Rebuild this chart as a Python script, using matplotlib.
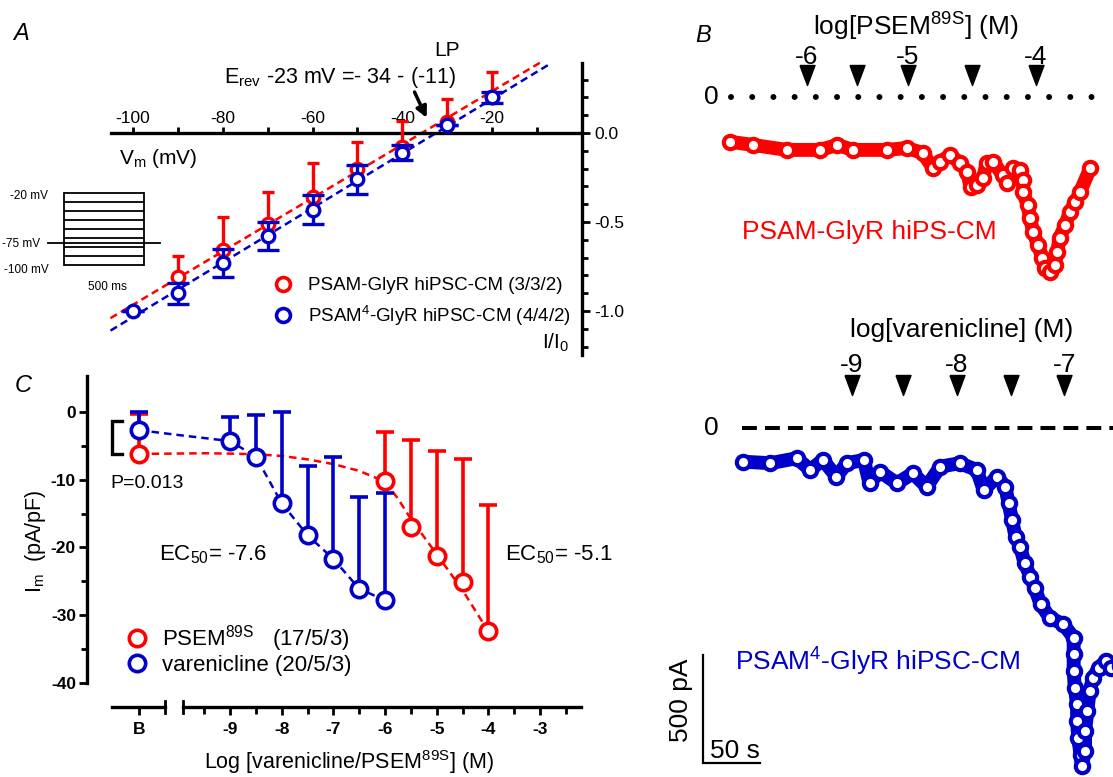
import matplotlib
matplotlib.use('Agg')
import matplotlib.pyplot as plt
import matplotlib.transforms as mtransforms
from matplotlib.lines import Line2D
import numpy as np

plt.rcParams['font.family'] = ['Liberation Sans', 'DejaVu Sans']
plt.rcParams['mathtext.fontset'] = 'custom'
plt.rcParams['mathtext.rm'] = 'Liberation Sans'
plt.rcParams['mathtext.it'] = 'Liberation Sans:italic'
plt.rcParams['mathtext.bf'] = 'Liberation Sans:bold'

W, H = 1113, 777
RED = '#FF0000'
BLUE = '#0000C8'

# ---------------- Panel A : I-V relation ----------------
a_red_v = [-90, -80, -70, -60, -50, -40, -30, -20]
a_red_i = [-0.81, -0.66, -0.51, -0.36, -0.20, -0.08, 0.06, 0.20]
a_red_err = [0.12, 0.19, 0.18, 0.19, 0.15, 0.15, 0.13, 0.14]
a_blue_v = [-100, -90, -80, -70, -60, -50, -40, -30, -20]
a_blue_i = [-1.00, -0.90, -0.73, -0.58, -0.43, -0.26, -0.11, 0.045, 0.20]
a_blue_err = [0.0, 0.06, 0.08, 0.08, 0.08, 0.08, 0.04, 0.0, 0.03]
a_red_fit_v = [-105, -9]
a_red_fit_i = [-1.04, 0.40]
a_blue_fit_v = [-105, -7]
a_blue_fit_i = [-1.11, 0.39]
a_xticks = [-100, -80, -60, -40, -20]
a_xminor = [-90, -70, -50, -30, -10]
a_yticks = [0.0, -0.5, -1.0]
a_yticklabels = ['0.0', '-0.5', '-1.0']
a_yminor = [0.3, 0.2, 0.1, -0.1, -0.2, -0.3, -0.4, -0.6, -0.7, -0.8, -0.9, -1.1, -1.2]
a_labels = ['PSAM-GlyR hiPSC-CM (3/3/2)', r'PSAM$^{4}$-GlyR hiPSC-CM (4/4/2)']

# voltage protocol inset
prot_steps_mv = [-20, -30, -40, -50, -60, -70, -80, -90, -100]
prot_hold_mv = -75
prot_step_ms = 500
prot_pad_ms = 100

# ---------------- Panel C : concentration-response ----------------
c_red_log = [-6, -5.5, -5, -4.5, -4]
c_red_mean = [-10.25, -17.0, -21.2, -25.1, -32.4]
c_red_err = [7.25, 12.9, 15.4, 18.2, 18.7]
c_red_b_mean, c_red_b_err = -6.2, 5.9
c_blue_log = [-9, -8.5, -8, -7.5, -7, -6.5, -6]
c_blue_mean = [-4.3, -6.6, -13.5, -18.2, -21.7, -26.1, -27.8]
c_blue_err = [3.5, 6.1, 13.5, 10.2, 15.1, 13.6, 15.9]
c_blue_b_mean, c_blue_b_err = -2.7, 2.7
c_red_curve_log = [-9.5, -9, -8.5, -8, -7.5, -7, -6.5, -6, -5.75, -5.5, -5, -4.5, -4]
c_red_curve_val = [-6.1, -6.15, -6.25, -6.5, -7.0, -7.7, -8.7, -10.3, -12.8, -15.8, -21.0, -26.3, -32.4]
c_blue_curve_log = [-9.9, -9, -8.5, -8, -7.5, -7, -6.5, -6]
c_blue_curve_val = [-3.5, -4.3, -6.6, -13.5, -18.2, -21.7, -26.1, -27.8]
c_yticks = [0, -10, -20, -30, -40]
c_yminor = [-5, -15, -25, -35]
c_xticks = [-9, -8, -7, -6, -5, -4, -3]
c_xminor = [-9.5, -8.5, -7.5, -6.5, -5.5, -4.5, -3.5, -2.5]
c_labels = [r'PSEM$^{\mathrm{89S}}$   (17/5/3)', 'varenicline (20/5/3)']

# ---------------- Panel B : example traces ----------------
b_red_t = [0, 20, 50, 79, 94, 108, 138, 155, 169, 178, 184, 193, 202, 208, 211, 217,
           222, 225, 231, 239, 243, 248, 254, 257, 257, 261, 263, 266, 270, 274, 276,
           281, 285, 287, 289, 294, 298, 303, 307, 316]
b_red_i = [-207, -222, -245, -245, -222, -245, -245, -236, -259, -329, -301, -269, -306,
           -347, -417, -407, -375, -306, -301, -361, -398, -329, -338, -384, -440, -500,
           -560, -625, -685, -745, -792, -810, -778, -718, -653, -593, -532, -486, -440, -329]
b_red_arrow_t = [67.5, 111.4, 156.1, 212.2, 268.4]
b_red_arrow_lab = ['-6', '', '-5', '', '-4']
b_red_zero_t = [0.9, 317.5]

b_blue_t = [0, 24, 47, 59, 70, 82, 91, 106, 111, 120, 135, 149, 161, 173, 190, 205, 211,
            223, 230, 233, 236, 239, 243, 247, 252, 256, 261, 269, 281, 290, 290, 290,
            291, 293, 293, 294, 296, 297, 300, 300, 302, 304, 307, 312, 318, 323, 331]
b_blue_i = [-156, -163, -140, -194, -148, -225, -163, -148, -256, -202, -256, -210, -272,
            -179, -163, -194, -287, -225, -272, -349, -426, -503, -549, -626, -688, -742,
            -816, -878, -909, -971, -1048, -1125, -1203, -1280, -1357, -1435, -1512, -1565,
            -1496, -1403, -1311, -1218, -1156, -1110, -1079, -1110, -1102]
b_blue_arrow_t = [95.3, 140.6, 187.4, 234.8, 281.8]
b_blue_arrow_lab = ['-9', '', '-8', '', '-7']
b_blue_zero_t = [-1.1, 340]
scale_pa = 500
scale_s = 50

# ======================================================================
fig = plt.figure(figsize=(W / 100, H / 100), dpi=100)


def px_axes(x0, y0, x1, y1):
    return fig.add_axes([x0 / W, 1 - y1 / H, (x1 - x0) / W, (y1 - y0) / H])


def ptext(x, y, s, **kw):
    kw.setdefault('ha', 'center')
    kw.setdefault('va', 'center')
    return fig.text(x / W, 1 - y / H, s, **kw)


def up_bars(ax, x, mean, err, color, cap, lw, z):
    top = np.asarray(mean, float) + np.asarray(err, float)
    ax.vlines(x, mean, top, colors=color, lw=lw, zorder=z, clip_on=False)
    ax.plot(x, top, ls='none', marker='_', ms=cap, mew=lw, color=color, zorder=z,
            clip_on=False)


# ---------------- Panel A ----------------
axA = px_axes(110.5, 63, 582, 355)
axA.set_xlim(-105, 0)
axA.set_ylim(-1.247, 0.393)
axA.set_facecolor('none')
for s in ['left', 'bottom']:
    axA.spines[s].set_visible(False)
axA.spines['top'].set_position(('data', 0))
axA.spines['top'].set_linewidth(2.4)
axA.spines['right'].set_linewidth(2.4)
axA.xaxis.set_ticks_position('top')
axA.yaxis.set_ticks_position('right')
axA.set_xticks(a_xticks)
axA.set_xticklabels([str(v) for v in a_xticks])
axA.set_xticks(a_xminor, minor=True)
axA.set_yticks(a_yticks)
axA.set_yticklabels(a_yticklabels)
axA.set_yticks(a_yminor, minor=True)
axA.tick_params(axis='x', which='both', direction='out', length=4, width=2,
                labelsize=12.5, pad=1)
axA.tick_params(axis='y', which='major', direction='out', length=6, width=2,
                labelsize=12.5, pad=3)
axA.tick_params(axis='y', which='minor', direction='out', length=4, width=2)

axA.plot(a_red_fit_v, a_red_fit_i, color=RED, lw=1.8, ls=(0, (3, 1.8)), zorder=2, clip_on=False)
axA.plot(a_blue_fit_v, a_blue_fit_i, color=BLUE, lw=1.8, ls=(0, (3, 1.8)), zorder=2, clip_on=False)
up_bars(axA, a_red_v, a_red_i, a_red_err, RED, 8, 2.4, 3)
axA.plot(a_red_v, a_red_i, ls='none', marker='o', mfc='white', mec=RED, ms=9, mew=2.4,
         zorder=3, clip_on=False)
axA.errorbar(a_blue_v, a_blue_i, yerr=a_blue_err, fmt='o',
             mfc='white', mec=BLUE, ecolor=BLUE, ms=9, mew=2.4, elinewidth=2.4,
             capsize=8, capthick=2.4, zorder=4, clip_on=False)
axA.annotate('', xy=(-34.6, 0.085), xytext=(-37.3, 0.23),
             arrowprops=dict(arrowstyle='-|>', color='k', lw=2.5, mutation_scale=16,
                             shrinkA=0, shrinkB=0))

a_handles = [Line2D([], [], ls='none', marker='o', mfc='white', mec=RED, ms=10, mew=2.6),
             Line2D([], [], ls='none', marker='o', mfc='white', mec=BLUE, ms=10, mew=2.6)]
fig.legend(a_handles, a_labels, loc='upper left', bbox_to_anchor=(273.6 / W, 1 - 277 / H),
           frameon=False, fontsize=13.5, borderpad=0, borderaxespad=0, handlelength=1.0,
           handletextpad=0.83, labelspacing=0.5)

ptext(21, 34, 'A', fontsize=17, style='italic')
ptext(447, 50, 'LP', fontsize=15)
ptext(340, 78, r'E$_{\mathrm{rev}}$ -23 mV =- 34 - (-11)', fontsize=15.5)
ptext(119, 158, r'V$_{\mathrm{m}}$ (mV)', fontsize=15, ha='left')
ptext(556, 343, r'I/I$_{0}$', fontsize=15)

# protocol inset
axI = px_axes(40, 185, 170, 275)
axI.set_xlim(-150, 662.5)
axI.set_ylim(-111.1, -11.1)
axI.axis('off')
for v in prot_steps_mv:
    axI.plot([0, prot_step_ms], [v, v], color='k', lw=1.3, solid_capstyle='butt')
axI.plot([0, 0], [max(prot_steps_mv), min(prot_steps_mv)], color='k', lw=1.3)
axI.plot([prot_step_ms, prot_step_ms], [max(prot_steps_mv), min(prot_steps_mv)], color='k', lw=1.3)
axI.plot([-prot_pad_ms, prot_step_ms + prot_pad_ms], [prot_hold_mv, prot_hold_mv], color='k', lw=1.3)
ptext(48, 196, '-20 mV', fontsize=8.5, ha='right')
ptext(40, 244, '-75 mV', fontsize=8.5, ha='right')
ptext(49, 270, '-100 mV', fontsize=8.5, ha='right')
ptext(107, 287, '500 ms', fontsize=8.5)

# ---------------- Panel C ----------------
axC = px_axes(87, 376, 581, 683)
axC.set_xlim(-11.77, -2.207)
axC.set_ylim(-40, 5.3)
axC.set_facecolor('none')
for s in ['top', 'right', 'bottom']:
    axC.spines[s].set_visible(False)
axC.spines['left'].set_linewidth(2.4)
axC.set_xticks([])
axC.set_yticks(c_yticks)
axC.set_yticklabels([str(v) for v in c_yticks], fontweight='bold')
axC.set_yticks(c_yminor, minor=True)
axC.tick_params(axis='y', which='major', direction='out', length=6, width=2, labelsize=12.5, pad=2)
axC.tick_params(axis='y', which='minor', direction='out', length=4, width=2)

x_B = -10.76
axC.plot([x_B] + c_red_curve_log, [c_red_b_mean] + c_red_curve_val, color=RED, lw=1.8,
         ls=(0, (3, 2)), zorder=2)
axC.plot([x_B] + c_blue_curve_log, [c_blue_b_mean] + c_blue_curve_val, color=BLUE, lw=1.8,
         ls=(0, (3, 2)), zorder=2)
up_bars(axC, [x_B] + c_red_log, [c_red_b_mean] + c_red_mean, [c_red_b_err] + c_red_err,
        RED, 13, 2.6, 3)
axC.plot([x_B] + c_red_log, [c_red_b_mean] + c_red_mean, ls='none', marker='o', mfc='white',
         mec=RED, ms=11.8, mew=2.6, zorder=3, clip_on=False)
up_bars(axC, [x_B] + c_blue_log, [c_blue_b_mean] + c_blue_mean, [c_blue_b_err] + c_blue_err,
        BLUE, 13, 2.6, 4)
axC.plot([x_B] + c_blue_log, [c_blue_b_mean] + c_blue_mean, ls='none', marker='o',
         mfc='white', mec=BLUE, ms=11.8, mew=2.6, zorder=4, clip_on=False)
# significance bracket between the two baseline values
axC.plot([-11.09, -11.29, -11.29, -11.09],
         [c_blue_b_mean + 1.3, c_blue_b_mean + 1.3, c_red_b_mean, c_red_b_mean],
         color='k', lw=2.4, solid_joinstyle='miter', zorder=5)

# broken x axis
axX1 = px_axes(111.5, 701, 165, 713)
axX2 = px_axes(183, 701, 581, 713)
for ax_, lo, hi in [(axX1, -11.29, -10.26), (axX2, -9.91, -2.207)]:
    ax_.set_xlim(lo, hi)
    ax_.set_ylim(-1, 1)
    ax_.set_facecolor('none')
    for s in ['top', 'right', 'left']:
        ax_.spines[s].set_visible(False)
    ax_.spines['bottom'].set_position(('data', 0))
    ax_.spines['bottom'].set_linewidth(2.4)
    ax_.set_yticks([])
    ax_.tick_params(axis='x', which='both', direction='out', width=2, labelsize=12.5, pad=5)
    ax_.tick_params(axis='x', which='major', length=6)
    ax_.tick_params(axis='x', which='minor', length=5)
axX1.set_xticks([x_B])
axX1.set_xticklabels(['B'], fontweight='bold')
axX1.plot([-10.26, -10.26], [-0.95, 0.95], color='k', lw=2.0, clip_on=False)
axX2.set_xticks(c_xticks)
axX2.set_xticklabels([str(v) for v in c_xticks], fontweight='bold')
axX2.set_xticks(c_xminor, minor=True)
axX2.plot([-9.91, -9.91], [-0.95, 0.95], color='k', lw=2.0, clip_on=False)

c_handles = [Line2D([], [], ls='none', marker='o', mfc='white', mec=RED, ms=11.8, mew=2.6),
             Line2D([], [], ls='none', marker='o', mfc='white', mec=BLUE, ms=11.8, mew=2.6)]
fig.legend(c_handles, c_labels, loc='upper left', bbox_to_anchor=(126 / W, 1 - 623 / H),
           frameon=False, fontsize=16, borderpad=0, borderaxespad=0, handlelength=1.0,
           handletextpad=0.6, labelspacing=0.05)

ptext(23, 385, 'C', fontsize=17, style='italic')
ptext(110, 483, 'P=0.013', fontsize=14, ha='left')
ptext(159, 555, r'EC$_{50}$= -7.6', fontsize=16, ha='left')
ptext(505, 555, r'EC$_{50}$= -5.1', fontsize=16, ha='left')
ptext(36, 541, r'I$_{\mathrm{m}}$  (pA/pF)', fontsize=15.5, rotation=90)
ptext(349, 762, r'Log [varenicline/PSEM$^{\mathrm{89S}}$] (M)', fontsize=15.5)

# ---------------- Panel B ----------------
tri = [(-0.375, 0.5), (0.375, 0.5), (0.0, -0.5), (-0.375, 0.5)]
trace_kw = dict(lw=10, solid_joinstyle='round', solid_capstyle='round', marker='o',
                ms=9.6, mew=3.0, mfc='white', zorder=3)

axBt = px_axes(700, 40, 1113, 300)
axBt.set_xlim(-26.3, 335.9)
axBt.set_ylim(-939.9, 263.9)
axBt.axis('off')
axBt.plot(b_red_zero_t, [0, 0], color='k', lw=4.3, ls=(0, (0.001, 3.55)),
          dash_capstyle='round')
axBt.plot(b_red_t, b_red_i, color=RED, mec=RED, **trace_kw)
trT = mtransforms.blended_transform_factory(axBt.transData, axBt.transAxes)
axBt.plot(b_red_arrow_t, [0.8635] * len(b_red_arrow_t), ls='none', marker=tri,
          ms=14.4, color='k', transform=trT, clip_on=False)
for t_, lab in zip(b_red_arrow_t, b_red_arrow_lab):
    if lab:
        axBt.text(t_, 0.935, lab, transform=trT, ha='center', va='center', fontsize=19)

axBb = px_axes(700, 300, 1113, 777)
axBb.set_xlim(-37.7, 324.5)
axBb.set_ylim(-1615.9, 592.6)
axBb.axis('off')
axBb.plot(b_blue_zero_t, [0, 0], color='k', lw=2.9, ls=(0, (3.7, 2.0)))
axBb.plot(b_blue_t, b_blue_i, color=BLUE, mec=BLUE, **trace_kw)
trB = mtransforms.blended_transform_factory(axBb.transData, axBb.transAxes)
axBb.plot(b_blue_arrow_t, [0.8218] * len(b_blue_arrow_t), ls='none', marker=tri,
          ms=14.4, color='k', transform=trB, clip_on=False)
for t_, lab in zip(b_blue_arrow_t, b_blue_arrow_lab):
    if lab:
        axBb.text(t_, 0.8637, lab, transform=trB, ha='center', va='center', fontsize=19)
# scale bars
sb_t0, sb_i0 = -35.1, -1551
axBb.plot([sb_t0, sb_t0, sb_t0 + scale_s], [sb_i0 + scale_pa, sb_i0, sb_i0], color='k',
          lw=1.6, solid_joinstyle='miter', clip_on=False)

ptext(703, 36, 'B', fontsize=17, style='italic')
ptext(916, 27, r'log[PSEM$^{\mathrm{89S}}$] (M)', fontsize=19)
ptext(711, 97, '0', fontsize=19)
ptext(742, 232, 'PSAM-GlyR hiPS-CM', fontsize=19, color=RED, ha='left')
ptext(962, 330, 'log[varenicline] (M)', fontsize=19)
ptext(711, 428, '0', fontsize=19)
ptext(735, 662, r'PSAM$^{4}$-GlyR hiPSC-CM', fontsize=19, color=BLUE, ha='left')
ptext(681, 700, '500 pA', fontsize=19, rotation=90)
ptext(735, 751, '50 s', fontsize=19)

fig.savefig('out.png', dpi=100)
